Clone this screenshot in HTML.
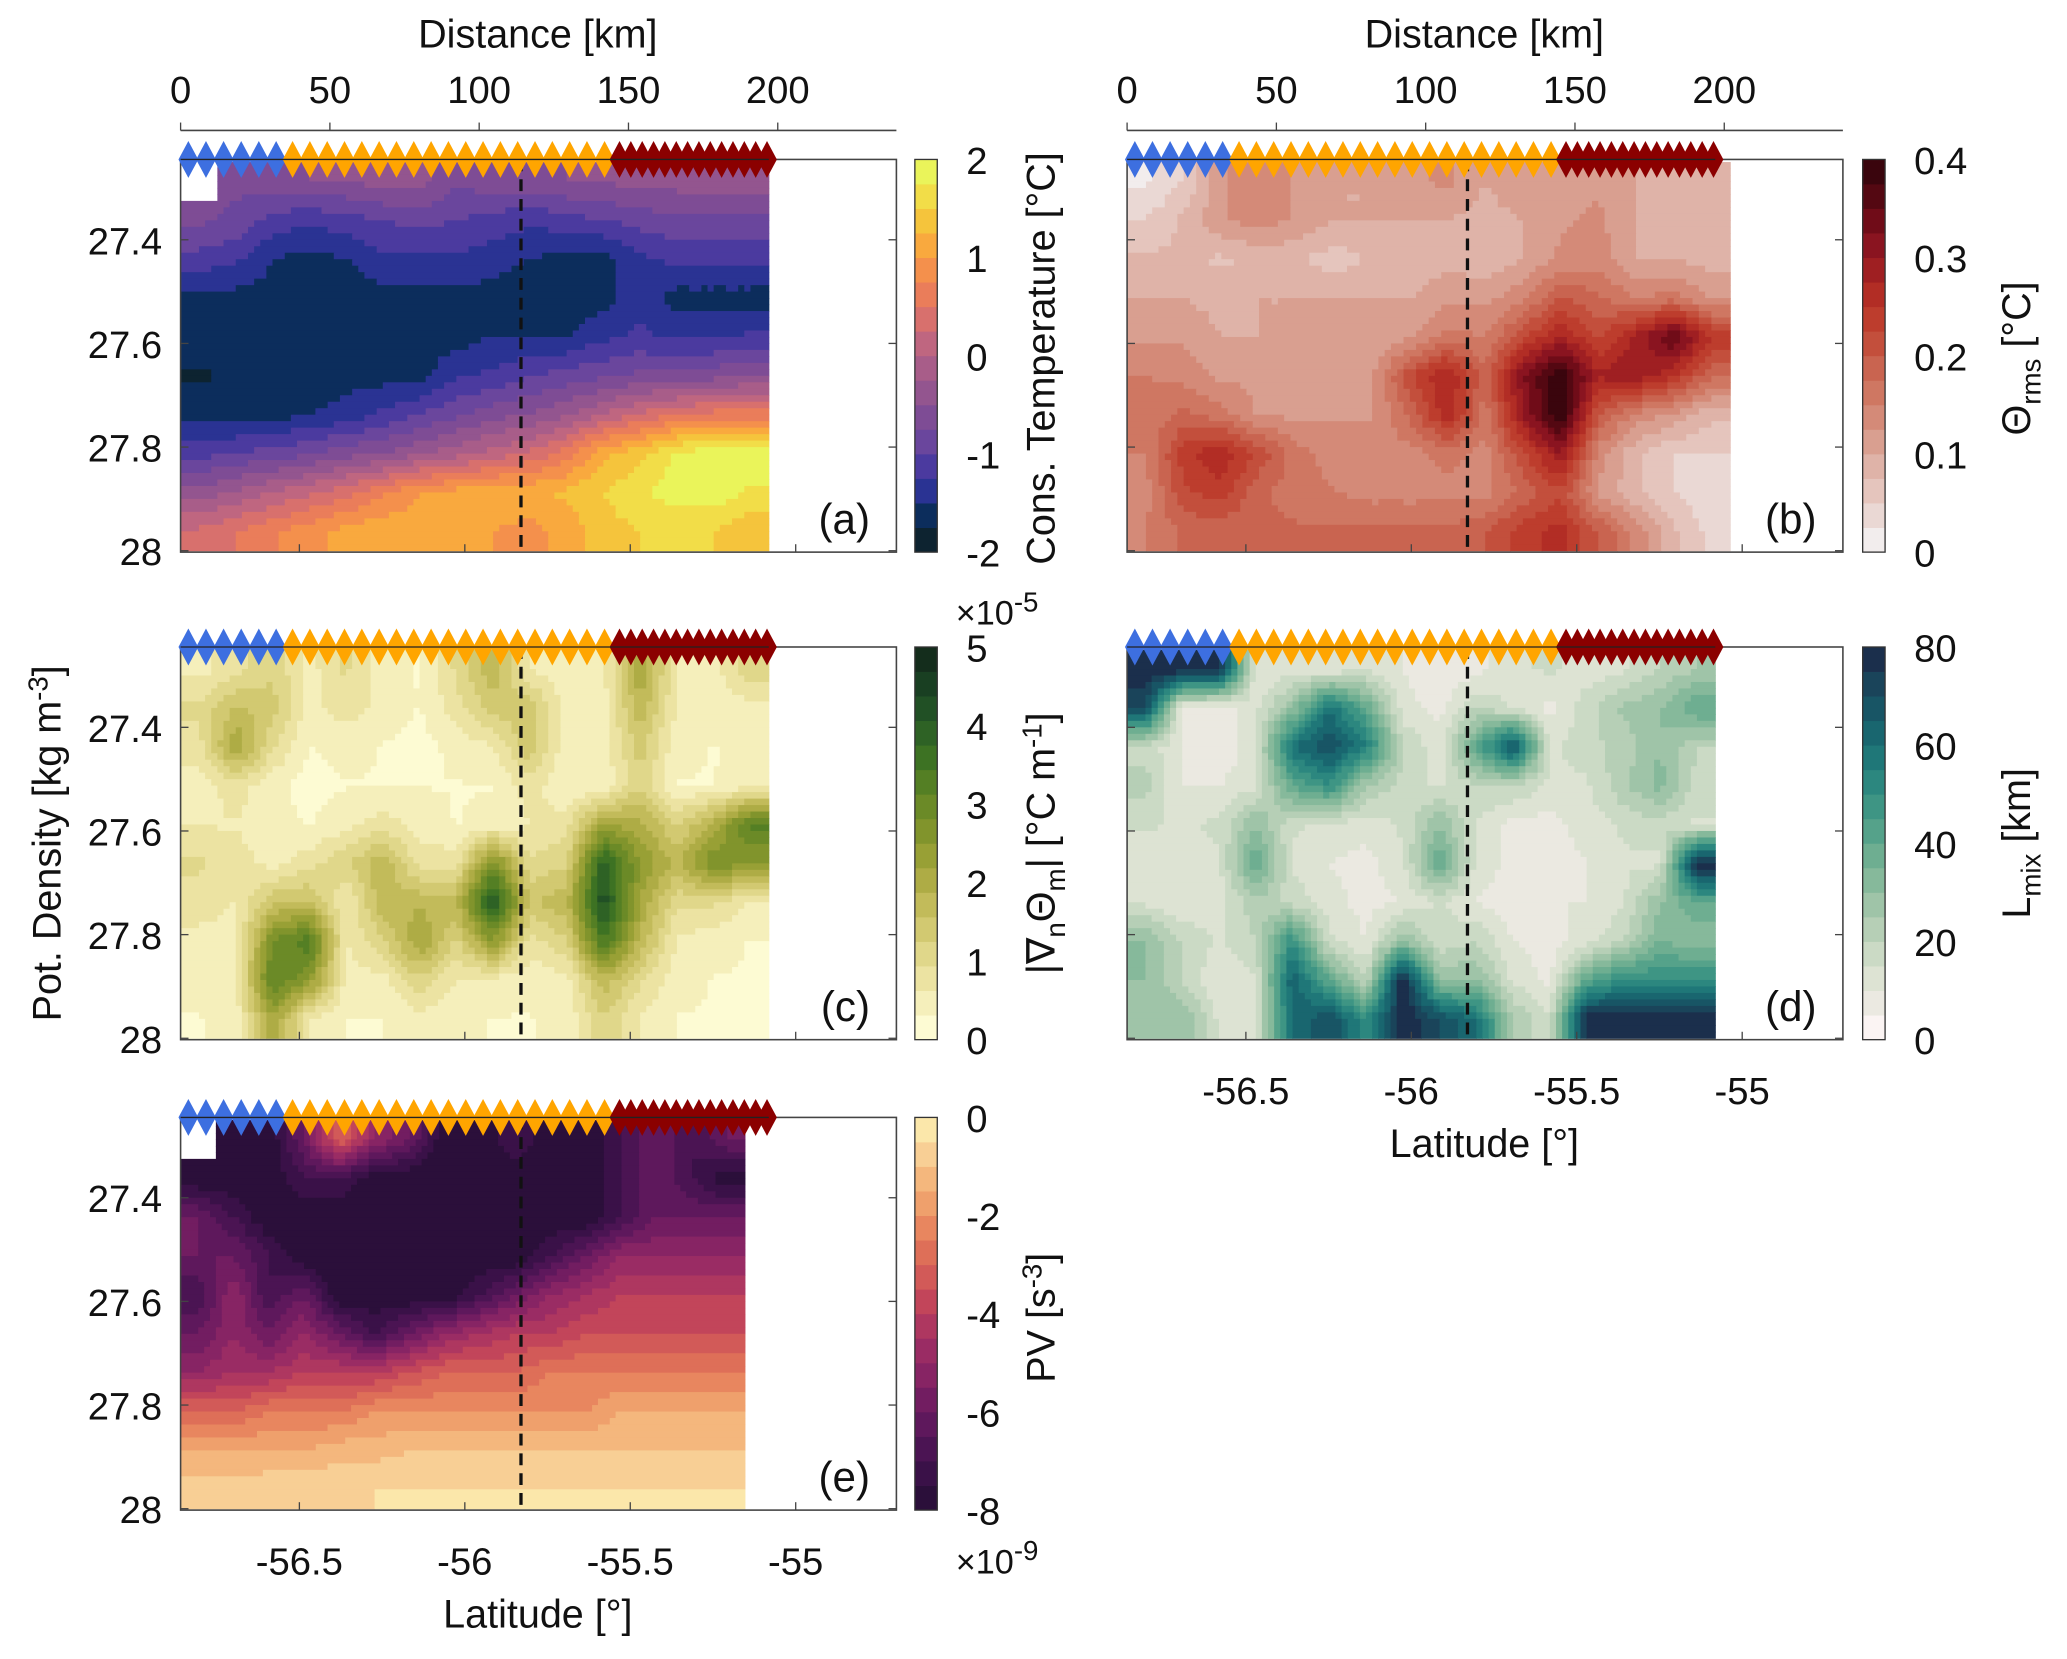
<!DOCTYPE html>
<html><head><meta charset="utf-8"><style>
html,body{margin:0;padding:0;background:#fff}
svg{display:block}
text{font-family:"Liberation Sans",Arial,sans-serif;fill:#111}
</style></head><body>
<svg id="fig" width="2067" height="1659" viewBox="0 0 1568 1259" preserveAspectRatio="none" xmlns="http://www.w3.org/2000/svg">
<g id="fields"></g>
<g id="deco"></g>
</svg>
<script>
// ---------------- data ----------------
const densTicks=[27.4,27.6,27.8,28];
const densTickLabels=['27.4','27.6','27.8','28'];
const distTicks=[0,50,100,150,200];
const latTicks=[-56.5,-56,-55.5,-55];
const latTickLabels=['-56.5','-56','-55.5','-55'];
const dashedDist=114;
const blueStations=[2.6,8.5,14.4,20.3,26.2,32];
const orangeStations=[37.5,43.3,49.1,54.9,60.7,66.5,72.3,78.1,83.9,89.7,95.5,101.3,107.1,112.9,118.7,124.5,130.3,136.1,142];
const redStations=[147,150.8,154.6,158.4,162.2,166,169.8,173.6,177.4,181.2,185,188.8,192.6,196.4];
const N=NaN;
const tempGrid=[
[N,-0.7,-0.6,-0.5,-0.5,-0.4,-0.4,-0.7,-0.6,-0.6,-0.5,-0.5,-0.4,-0.4,-0.4,-0.3],
[-0.7,-0.8,-1.1,-1.2,-1.1,-1.0,-0.9,-1.0,-1.1,-1.2,-1.1,-1.0,-0.9,-0.8,-0.8,-0.8],
[-1.1,-1.2,-1.5,-1.6,-1.5,-1.3,-1.3,-1.3,-1.4,-1.5,-1.6,-1.6,-1.3,-1.2,-1.2,-1.2],
[-1.6,-1.6,-1.6,-1.7,-1.7,-1.6,-1.6,-1.6,-1.6,-1.7,-1.7,-1.6,-1.3,-1.6,-1.6,-1.6],
[-1.6,-1.7,-1.7,-1.7,-1.7,-1.6,-1.6,-1.6,-1.5,-1.5,-1.5,-1.3,-1.2,-1.3,-1.3,-1.2],
[-1.8,-1.7,-1.7,-1.7,-1.6,-1.6,-1.6,-1.3,-1.2,-1.0,-0.9,-0.8,-0.7,-0.7,-0.6,-0.5],
[-1.6,-1.6,-1.6,-1.5,-1.4,-1.2,-1.0,-0.8,-0.6,-0.5,-0.3,0,0.3,0.5,0.6,0.6],
[-1.1,-1.0,-0.9,-0.8,-0.6,-0.5,-0.3,-0.1,0.1,0.3,0.6,1.2,1.4,1.8,1.9,1.9],
[-0.4,-0.2,0,0.2,0.4,0.7,1.0,1.1,1.2,1.2,1.3,1.5,1.7,1.9,1.9,1.7],
[0.3,0.5,0.7,0.9,1.1,1.2,1.1,1.1,1.0,0.9,1.1,1.4,1.5,1.5,1.5,1.3]];
const rmsGrid=[
[.02,.05,.12,.15,.12,.10,.10,.12,.13,.10,.12,.12,.12,.10,.08,.08],
[.05,.08,.12,.14,.12,.10,.10,.10,.10,.09,.10,.12,.13,.10,.08,.08],
[.08,.08,.07,.08,.08,.06,.08,.08,.09,.08,.10,.13,.14,.10,.10,.09],
[.10,.10,.09,.10,.10,.10,.10,.10,.12,.12,.14,.20,.18,.15,.16,.12],
[.12,.12,.10,.10,.10,.10,.10,.12,.16,.15,.22,.28,.22,.28,.36,.25],
[.15,.14,.12,.12,.10,.10,.12,.22,.28,.18,.32,.40,.28,.30,.25,.18],
[.16,.18,.16,.12,.12,.12,.12,.18,.27,.16,.30,.40,.20,.14,.12,.08],
[.15,.24,.27,.22,.16,.14,.14,.14,.16,.14,.22,.30,.14,.08,.05,.05],
[.14,.22,.24,.18,.16,.15,.14,.14,.14,.14,.18,.22,.12,.08,.05,.03],
[.15,.18,.18,.18,.18,.18,.18,.18,.18,.20,.24,.26,.20,.14,.08,.04]];
const gradGrid=[
[0.5,0.8,1.2,0.5,1.0,0.4,0.3,1.0,1.8,0.6,0.3,0.5,2.2,0.6,0.5,1.2],
[1.0,1.6,1.4,0.5,0.8,0.5,0.3,0.8,1.4,1.5,0.5,0.5,1.8,0.6,0.4,0.5],
[0.8,2.2,1.0,0.3,0.4,0.3,0.2,0.4,0.6,1.5,0.4,0.4,1.4,0.4,0.3,0.4],
[0.4,0.8,0.4,0.2,0.3,0.3,0.3,0.3,0.3,0.8,0.3,0.4,1.2,0.3,0.3,0.5],
[0.6,0.6,0.4,0.3,0.5,0.8,0.5,0.3,0.4,0.6,0.8,2.2,2.0,1.2,2.0,3.2],
[1.0,0.8,0.5,0.8,1.2,1.8,0.8,0.8,2.8,1.0,1.2,4.0,2.5,1.8,2.8,2.5],
[0.8,0.6,1.5,1.6,0.6,1.8,1.8,1.8,4.2,1.5,1.8,4.3,2.2,1.0,1.0,0.6],
[0.5,0.5,2.8,3.4,0.6,1.2,2.2,1.2,2.5,0.8,1.2,3.5,1.8,0.6,0.4,0.3],
[0.4,0.6,3.2,2.5,0.5,0.5,1.2,0.6,0.5,0.4,0.5,1.8,1.0,0.4,0.3,0.3],
[0.3,0.4,2.2,0.6,0.3,0.3,0.5,0.4,0.3,0.3,0.4,1.2,0.6,0.3,0.3,0.3]];
const lmixGrid=[
[80,80,80,10,12,10,14,10,6,8,14,16,12,14,20,25],
[70,8,6,14,30,60,40,12,8,20,14,8,18,26,30,40],
[18,10,5,14,60,70,55,20,12,40,70,14,18,22,30,20],
[22,10,10,14,40,50,25,18,14,20,20,14,14,24,32,18],
[16,14,16,30,16,14,12,16,30,14,8,8,12,16,18,14],
[10,12,14,40,14,10,8,14,40,14,8,8,10,14,14,80],
[14,10,12,24,18,12,8,10,16,10,6,10,10,14,30,40],
[30,20,14,20,50,16,10,30,16,20,10,8,12,20,35,30],
[30,20,10,14,65,40,20,80,30,30,14,8,40,50,50,50],
[25,30,14,14,60,70,50,80,70,60,25,16,80,80,80,80]];
const pvGrid=[
[N,-8,-8,-6,-3,-5,-6,-8,-8,-7,-8,-8,-7,-6,-7,-6],
[-8,-8,-8,-7,-7,-8,-8,-8,-8,-8,-8,-8,-7,-6,-7,-8],
[-6,-7,-8,-8,-8,-8,-8,-8,-8,-8,-8,-8,-7,-6,-6,-6],
[-6,-6,-7,-8,-8,-8,-8,-8,-8,-8,-7,-6,-5,-5,-5,-5],
[-7,-5,-7,-6,-8,-8,-8,-8,-7,-6,-5,-4.5,-4,-4,-4,-4],
[-6,-5,-6,-5,-6,-7,-6,-5,-4.5,-4,-4,-3.5,-3.5,-3.5,-3.5,-3.5],
[-5,-4.5,-4.5,-4,-4,-4,-3.5,-3,-3,-3,-2.5,-2.5,-2.5,-2.5,-2.5,-2.5],
[-3,-3,-2.5,-2.5,-2.5,-2,-2,-2,-2,-2,-2,-2,-1.5,-1.5,-1.5,-1.5],
[-1.5,-1.5,-1.5,-1.5,-1.2,-1.2,-1,-1,-1,-1,-1,-1,-1,-1,-1,-1],
[-0.8,-0.8,-0.6,-0.6,-0.6,-0.5,-0.5,-0.5,-0.5,-0.5,-0.5,-0.5,-0.5,-0.5,-0.5,-0.5]];

const cmapA=['#0d2330','#0c2d5c','#2a3393','#4b3a9f','#6a469d','#7e4c95','#93558f','#a85d89','#bf6680','#d8706d','#ea7d5a','#f4904c','#f9a93e','#f5c43c','#f2dd48','#eaf45a'];
const cmapB=['#f2eded','#ead8d4','#e5c5bd','#dfb3a8','#d99f90','#d48a78','#cf7762','#c96450','#c34f3c','#bd3d2d','#b22d25','#9f1f22','#8a1420','#700c18','#540812','#3a050d'];
const cmapC=['#fdfbd3','#f5efbb','#ece3a2','#e0d78a','#d2c971','#c2bb5a','#aeac45','#98a035','#81942c','#6b8a27','#547f24','#3d7223','#2e6225','#215025','#193f22','#142d1c'];
const cmapD=['#fbf4f3','#ebe9e1','#dde3d3','#cbdac5','#b6cfb6','#9fc4a8','#86b99b','#6eae91','#55a28a','#3e9584','#2c877f','#1f7778','#19666f','#185565','#1a445a','#1b2f4c'];
const cmapE=['#2b0f3a','#3a1148','#4b1453','#5e185c','#721d61','#872464','#9a2c64','#ae3760','#c2455a','#d25a58','#de6f58','#e8865f','#efa06c','#f4b77d','#f8cf95','#fbe7aa'];

// ---------------- layout ----------------
const SVGNS='http://www.w3.org/2000/svg';
const fields=document.getElementById('fields');
const deco=document.getElementById('deco');
const PW=543, PH=298, KMPX=2.265, DPX=393.3;
function xDist(px0,d){return px0+d*KMPX;}
function xLat(px0,l){return px0+(l+56.859)*251;}
function yDens(py0,d){return py0+(d-27.245)*DPX;}
function el(tag,attrs,parent){const e=document.createElementNS(SVGNS,tag);for(const k in attrs)e.setAttribute(k,attrs[k]);(parent||deco).appendChild(e);return e;}
function txt(x,y,s,size,anchor,parent,rot){const t=el('text',{x:x,y:y,'font-size':size,'text-anchor':anchor||'middle'},parent);if(rot)t.setAttribute('transform','rotate(-90 '+x+' '+y+')');t.innerHTML=s;return t;}

function sample(grid,u,v){
  const R=grid.length,C=grid[0].length;
  let a=u-0.5,b=v-0.5;
  a=Math.max(0,Math.min(C-1,a));b=Math.max(0,Math.min(R-1,b));
  const i0=Math.floor(b),j0=Math.floor(a),i1=Math.min(R-1,i0+1),j1=Math.min(C-1,j0+1);
  const fy=b-i0,fx=a-j0;
  const q=[grid[i0][j0],grid[i0][j1],grid[i1][j0],grid[i1][j1]];
  if(q.some(isNaN)){const nv=grid[Math.min(R-1,Math.floor(v))][Math.min(C-1,Math.floor(u))];if(isNaN(nv))return NaN;
    let s=0,w=0;const ws=[(1-fx)*(1-fy),fx*(1-fy),(1-fx)*fy,fx*fy];q.forEach((x,k)=>{if(!isNaN(x)){s+=x*ws[k];w+=ws[k];}});return s/w;}
  return q[0]*(1-fx)*(1-fy)+q[1]*fx*(1-fy)+q[2]*(1-fx)*fy+q[3]*fx*fy;
}
function drawField(name,px0,py0,grid,distMax,cmap,vmin,vmax){
  const g=el('g',{},fields);
  
  
  const R=grid.length,C=grid[0].length,S=6;
  const x0=xDist(px0,0),x1=xDist(px0,distMax),yt=yDens(py0,27.25),yb=yDens(py0,28.0);
  const cw=(x1-x0)/(C*S),ch=(yb-yt)/(R*S);
  for(let r=0;r<R*S;r++){
    let runStart=0,runCol=null;
    const flush=(end)=>{if(runCol){el('rect',{x:(x0+runStart*cw).toFixed(2),y:(yt+r*ch).toFixed(2),width:((end-runStart)*cw+0.4).toFixed(2),height:(ch+0.4).toFixed(2),fill:runCol},g);}};
    for(let c=0;c<=C*S;c++){
      let col=null;
      if(c<C*S){const v=sample(grid,(c+0.5)/S,(r+0.5)/S);
        if(!isNaN(v)){let k=Math.floor((v-vmin)/(vmax-vmin)*cmap.length);k=Math.max(0,Math.min(cmap.length-1,k));col=cmap[k];}}
      if(col!==runCol||c===C*S){flush(c);runStart=c;runCol=col;}
    }
  }
}
function drawColorbar(name,x,y0,cmap){
  const g=el('g',{});
  
  
  const h=PH/cmap.length;
  cmap.forEach((c,i)=>{el('rect',{x:x,y:(y0+PH-(i+1)*h).toFixed(2),width:17,height:(h+0.3).toFixed(2),fill:c},g);});
  el('rect',{x:x,y:y0,width:17,height:PH,fill:'none',stroke:'#333','stroke-width':1},g);
}
function cbLabels(x,y0,labels){labels.forEach((s,i)=>{txt(x,y0+i*PH/(labels.length-1)+11,s,29,'start');});}

function panelFrame(name,px0,py0,opts){
  const g=el('g',{});
  
  
  el('rect',{x:px0,y:py0,width:PW,height:PH,fill:'none',stroke:'#444','stroke-width':1.2},g);
  densTicks.forEach((d,i)=>{const y=yDens(py0,d);el('line',{x1:px0,x2:px0+6,y1:y,y2:y,stroke:'#444'},g);el('line',{x1:px0+PW,x2:px0+PW-6,y1:y,y2:y,stroke:'#444'},g);
    if(opts.yLabels)txt(px0-14,y+11,densTickLabels[i],29,'end',g);});
  latTicks.forEach((l,i)=>{const x=xLat(px0,l);el('line',{x1:x,x2:x,y1:py0+PH,y2:py0+PH-6,stroke:'#444'},g);
    if(opts.xLabels)txt(x,py0+PH+49,latTickLabels[i],29,'middle',g);});
  if(opts.xLabels)txt(px0+271,py0+PH+89,'Latitude [°]',30,'middle',g);
  if(opts.dist){
    el('line',{x1:px0,x2:px0+PW,y1:99,y2:99,stroke:'#444','stroke-width':1.2},g);
    distTicks.forEach(d=>{const x=xDist(px0,d);el('line',{x1:x,x2:x,y1:99,y2:93,stroke:'#444'},g);txt(x,78,String(d),29,'middle',g);});
    txt(px0+271,36,'Distance [km]',30,'middle',g);
  }
  const xd=xDist(px0,dashedDist);
  el('line',{x1:xd,x2:xd,y1:py0,y2:py0+PH,stroke:'#111','stroke-width':2.5,'stroke-dasharray':'9,6'},g);
  const diam=(d,c)=>{const x=xDist(px0,d);el('polygon',{points:`${x-7.5},${py0} ${x},${py0-14} ${x+7.5},${py0} ${x},${py0+14}`,fill:c},g);};
  blueStations.forEach(d=>diam(d,'#3d6fe0'));
  orangeStations.forEach(d=>diam(d,'#ffa500'));
  redStations.forEach(d=>diam(d,'#8b0000'));
  el('line',{x1:px0,x2:xDist(px0,197),y1:py0,y2:py0,stroke:'#222','stroke-width':1},g);
  txt(px0+PW-20,py0+PH-14,opts.letter,32,'end',g);
}

drawField('temperature-field',137,121,tempGrid,197,cmapA,-2,2);
drawField('theta-rms-field',855,121,rmsGrid,202,cmapB,0,0.4);
drawField('gradient-field',137,491,gradGrid,197,cmapC,0,5);
drawField('lmix-field',855,491,lmixGrid,197,cmapD,0,80);
drawField('pv-field',137,848,pvGrid,189,cmapE,-8,0);

panelFrame('panel-a',137,121,{yLabels:true,dist:true,letter:'(a)'});
panelFrame('panel-b',855,121,{dist:true,letter:'(b)'});
panelFrame('panel-c',137,491,{yLabels:true,letter:'(c)'});
panelFrame('panel-d',855,491,{xLabels:true,letter:'(d)'});
panelFrame('panel-e',137,848,{yLabels:true,xLabels:true,letter:'(e)'});

drawColorbar('colorbar-temperature',694,121,cmapA);
drawColorbar('colorbar-theta-rms',1413,121,cmapB);
drawColorbar('colorbar-gradient',694,491,cmapC);
drawColorbar('colorbar-lmix',1413,491,cmapD);
drawColorbar('colorbar-pv',694,848,cmapE);
cbLabels(733,121,['2','1','0','-1','-2']);
cbLabels(1452,121,['0.4','0.3','0.2','0.1','0']);
cbLabels(733,491,['5','4','3','2','1','0']);
cbLabels(1452,491,['80','60','40','20','0']);
cbLabels(733,848,['0','-2','-4','-6','-8']);
txt(725,474,'×10<tspan dy="-10" font-size="21">-5</tspan>',26,'start');
txt(725,1194,'×10<tspan dy="-10" font-size="21">-9</tspan>',26,'start');

txt(800,272,'Cons. Temperature [°C]',30,'middle',null,true);
txt(1540,272,'Θ<tspan dy="8" font-size="21">rms</tspan><tspan dy="-8"> [°C]</tspan>',30,'middle',null,true);
txt(800,640,'|∇<tspan dy="8" font-size="21">n</tspan><tspan dy="-8">Θ</tspan><tspan dy="8" font-size="21">m</tspan><tspan dy="-8">| [°C m</tspan><tspan dy="-10" font-size="21">-1</tspan><tspan dy="10">]</tspan>',30,'middle',null,true);
txt(1540,640,'L<tspan dy="8" font-size="21">mix</tspan><tspan dy="-8"> [km]</tspan>',30,'middle',null,true);
txt(800,1000,'PV [s<tspan dy="-10" font-size="21">-3</tspan><tspan dy="10">]</tspan>',30,'middle',null,true);
txt(46,640,'Pot. Density [kg m<tspan dy="-10" font-size="21">-3</tspan><tspan dy="10">]</tspan>',30,'middle',null,true);
</script>
</body></html>
